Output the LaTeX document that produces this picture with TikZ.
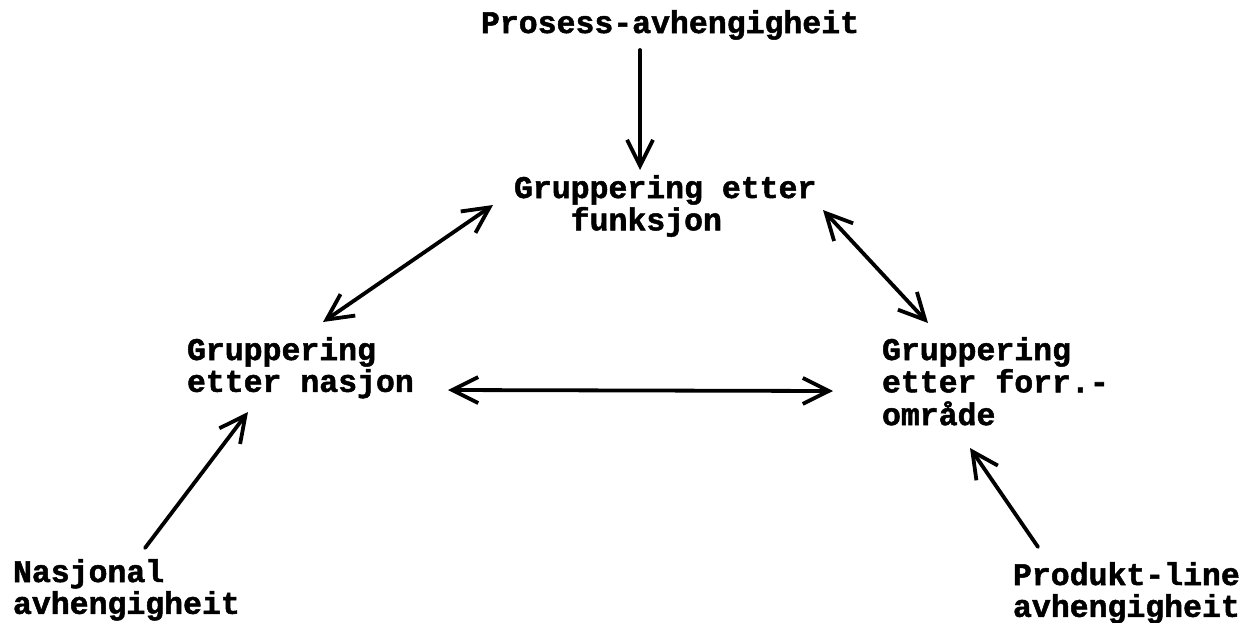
\documentclass[tikz,border=0pt]{standalone}
\usepackage{fontspec}
\setmainfont{Liberation Mono}[BoldFeatures={FakeBold=1.6}]
\usetikzlibrary{arrows.meta,calc}

% one unit = one pixel of the drawing, y growing downwards
\tikzset{
  x=0.5pt, y=-0.5pt,
  label/.style={anchor=base west, inner sep=0pt, outer sep=0pt},
  barb/.tip={Straight Barb[length=13pt,width=13pt,line width=1.9pt]},
  link/.style={line width=1.9pt, line cap=round, -barb},
  both/.style={link, barb-barb}
}
\newcommand{\lbl}[1]{\begin{tabular}[t]{@{}l@{}}#1\end{tabular}}

\begin{document}
\begin{tikzpicture}[font=\fontsize{15.75}{15}\selectfont\bfseries]
\useasboundingbox (0,0) rectangle (1252,622);

\node[label] (P)  at (481,33)  {\lbl{Prosess-avhengigheit}};
\node[label] (F)  at (514,198) {\lbl{Gruppering etter\\\phantom{xxx}funksjon}};
\node[label] (N)  at (187,360) {\lbl{Gruppering\\etter nasjon}};
\node[label] (R)  at (882,360) {\lbl{Gruppering\\etter forr.-\\område}};
\node[label] (NA) at (13,582)  {\lbl{Nasjonal\\avhengigheit}};
\node[label] (PL) at (1013,585){\lbl{Produkt-line\\avhengigheit}};

\draw[link] ($(P.base west)+(159,17)$) -- ($(F.base west)+(126,-28)$);
\draw[both] ($(N.base west)+(136,-38)$) -- ($(F.base west)+(-21,7)$);
\draw[both] ($(F.base west)+(309,12)$) -- ($(R.base west)+(46,-37)$);
\draw[both] ($(N.base west)+(261,30)$) -- ($(R.base west)+(-49,31)$);
\draw[link] ($(NA.base west)+(132,-34)$) -- ($(N.base west)+(61,52)$);
\draw[link] ($(PL.base west)+(25,-38)$) -- ($(R.base west)+(88,88)$);
\end{tikzpicture}
\end{document}
